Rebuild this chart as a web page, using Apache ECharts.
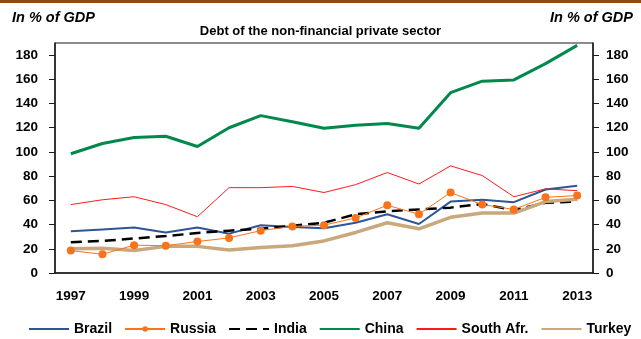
<!DOCTYPE html>
<html>
<head>
<meta charset="utf-8">
<script src="https://cdn.jsdelivr.net/npm/echarts@6/dist/echarts.min.js"></script>
<style>
  html, body { margin: 0; padding: 0; background: #ffffff; }
  #chart { width: 641px; height: 339px; }
</style>
</head>
<body>
<div id="chart"></div>
<script>
// Debt of the non-financial private sector, in % of GDP
const years = ['1997','1998','1999','2000','2001','2002','2003','2004','2005','2006','2007','2008','2009','2010','2011','2012','2013'];
const yTicks = [0, 20, 40, 60, 80, 100, 120, 140, 160, 180];

const brazil = [34.5, 36, 37.5, 33.5, 37.5, 32.5, 39.5, 38, 37, 41.5, 48.5, 40.5, 59, 60.5, 58.5, 69, 72];
const russia = [18.5, 15.5, 23, 22.5, 26, 29, 35, 38.5, 39.5, 45.5, 56, 48.5, 66.5, 56.5, 52.5, 62.5, 64];
const india = [25.5, 26.5, 28.5, 30.5, 33, 35, 36.5, 39, 41.5, 48.5, 51, 52.5, 54, 57, 52, 58, 59];
const china = [98.5, 107, 112, 113, 104.5, 120, 130, 125, 119.5, 122, 123.5, 119.5, 149, 158.5, 159.5, 173, 188];
const southAfrica = [56.5, 60.5, 63, 56.5, 46.5, 70.5, 70.5, 71.5, 66.5, 73, 83, 73.5, 88.5, 80.5, 63, 69.5, 68];
const turkey = [20, 20.5, 18.5, 22, 22, 19, 21, 22.5, 26.5, 33.5, 41.5, 36.5, 46, 49.5, 49.5, 59, 61];

const FONT = 'Liberation Sans, Arial, sans-serif';
const AXIS_COLOR = '#1a1a1a';

function valueAxis(position, labelMargin) {
  return {
    type: 'value',
    position: position,
    min: 0,
    max: 190,
    interval: 20,
    splitLine: { show: false },
    axisLine: { show: true, lineStyle: { color: AXIS_COLOR, width: 1.5 } },
    axisTick: { show: true, length: 6, customValues: yTicks, lineStyle: { color: AXIS_COLOR, width: 1 } },
    axisLabel: {
      customValues: yTicks,
      margin: labelMargin,
      color: '#000',
      fontFamily: FONT,
      fontWeight: 'bold',
      fontSize: 13.5
    }
  };
}

function lineSeries(name, data, color, width, extra) {
  return Object.assign({
    name: name,
    type: 'line',
    data: data,
    symbol: 'none',
    smooth: false,
    lineStyle: { color: color, width: width },
    itemStyle: { color: color }
  }, extra || {});
}

// legend entries: plain line keys, only Russia keeps its dot
const hideDot = { opacity: 0 };

const chart = echarts.init(document.getElementById('chart'), null, { renderer: 'canvas' });

chart.setOption({
  animation: false,
  backgroundColor: '#ffffff',
  title: [
    {
      text: 'Debt of the non-financial private sector',
      left: 'center',
      top: 20,
      textStyle: { fontFamily: FONT, fontWeight: 'bold', fontSize: 13, color: '#000' }
    },
    {
      text: 'In % of GDP',
      left: 7,
      top: 5,
      textStyle: { fontFamily: FONT, fontWeight: 'bold', fontStyle: 'italic', fontSize: 14.5, color: '#000' }
    },
    {
      text: 'In % of GDP',
      right: 3,
      top: 5,
      textStyle: { fontFamily: FONT, fontWeight: 'bold', fontStyle: 'italic', fontSize: 14.5, color: '#000' }
    }
  ],
  graphic: [
    {
      type: 'rect',
      left: 0,
      top: 0,
      shape: { width: 641, height: 3 },
      style: { fill: '#8c4a16' }
    }
  ],
  grid: {
    left: 55,
    right: 48,
    top: 43,
    bottom: 66,
    show: true,
    borderColor: AXIS_COLOR,
    borderWidth: 1,
    backgroundColor: 'transparent'
  },
  legend: {
    left: 28,
    top: 322,
    padding: 0,
    width: 620,
    itemWidth: 40,
    itemHeight: 7,
    itemGap: 12,
    textStyle: { fontFamily: FONT, fontWeight: 'bold', fontSize: 14, color: '#000' },
    data: [
      { name: 'Brazil', itemStyle: hideDot },
      { name: 'Russia' },
      { name: 'India', itemStyle: hideDot },
      { name: 'China', itemStyle: hideDot },
      { name: 'South Afr.', itemStyle: hideDot },
      { name: 'Turkey', itemStyle: hideDot }
    ]
  },
  xAxis: {
    type: 'category',
    data: years,
    boundaryGap: true,
    axisLine: { show: true, lineStyle: { color: AXIS_COLOR, width: 1.5 } },
    axisTick: { show: false },
    axisLabel: {
      interval: 1,
      margin: 16,
      color: '#000',
      fontFamily: FONT,
      fontWeight: 'bold',
      fontSize: 13.5
    }
  },
  yAxis: [valueAxis('left', 17), valueAxis('right', 13)],
  series: [
    lineSeries('Brazil', brazil, '#2f5597', 2),
    lineSeries('Russia', russia, '#f9731b', 1, { symbol: 'circle', symbolSize: 8, showSymbol: true, z: 4 }),
    lineSeries('India', india, '#000000', 2.5, { lineStyle: { color: '#000000', width: 2.5, type: [11, 6] } }),
    lineSeries('China', china, '#00894a', 3),
    lineSeries('South Afr.', southAfrica, '#ff1a1a', 1),
    lineSeries('Turkey', turkey, '#c9a87c', 3.5)
  ]
});
</script>
</body>
</html>
